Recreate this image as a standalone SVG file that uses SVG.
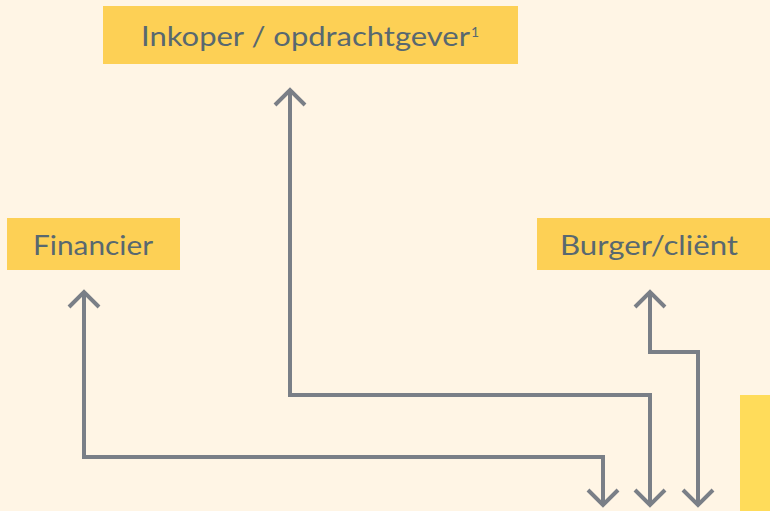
<svg xmlns="http://www.w3.org/2000/svg" width="770" height="511" viewBox="0 0 770 511">
<defs>
<style>
.box{fill:#fdd055}
.lbl{font-family:Lato,"Open Sans","Liberation Sans",sans-serif;font-size:27px;fill:#586870}
.con{fill:none;stroke:#7a7f87;stroke-width:4;stroke-linejoin:miter}
</style>
<marker id="ah" viewBox="-18 -18 36 36" markerWidth="36" markerHeight="36" markerUnits="userSpaceOnUse" orient="auto-start-reverse" refX="0" refY="0">
<path d="M-15,-15 L0,0 L-15,15" fill="none" stroke="#7a7f87" stroke-width="4"/>
</marker>
</defs>
<rect width="770" height="511" fill="#fff5e5"/>
<rect x="740" y="395" width="30" height="116" fill="#ffdc5a"/>
<g id="connectors">
<path class="con" d="M603,505 V457 H84 V292" marker-start="url(#ah)" marker-end="url(#ah)"/>
<path class="con" d="M650,505 V395 H290 V90" marker-start="url(#ah)" marker-end="url(#ah)"/>
<path class="con" d="M698,505 V352 H650 V292" marker-start="url(#ah)" marker-end="url(#ah)"/>
</g>
<g id="inkoper">
<rect class="box" x="103" y="6" width="415" height="58"/>
<text class="lbl" x="141" y="46" textLength="329" lengthAdjust="spacingAndGlyphs">Inkoper / opdrachtgever</text>
<text class="lbl" x="471" y="37" style="font-size:14px">1</text>
</g>
<g id="financier">
<rect class="box" x="7" y="218" width="173" height="52"/>
<text class="lbl" x="33" y="255" textLength="120" lengthAdjust="spacingAndGlyphs">Financier</text>
</g>
<g id="burger">
<rect class="box" x="537" y="218" width="233" height="52"/>
<text class="lbl" x="560" y="255" textLength="178" lengthAdjust="spacingAndGlyphs">Burger/cliënt</text>
</g>
</svg>
